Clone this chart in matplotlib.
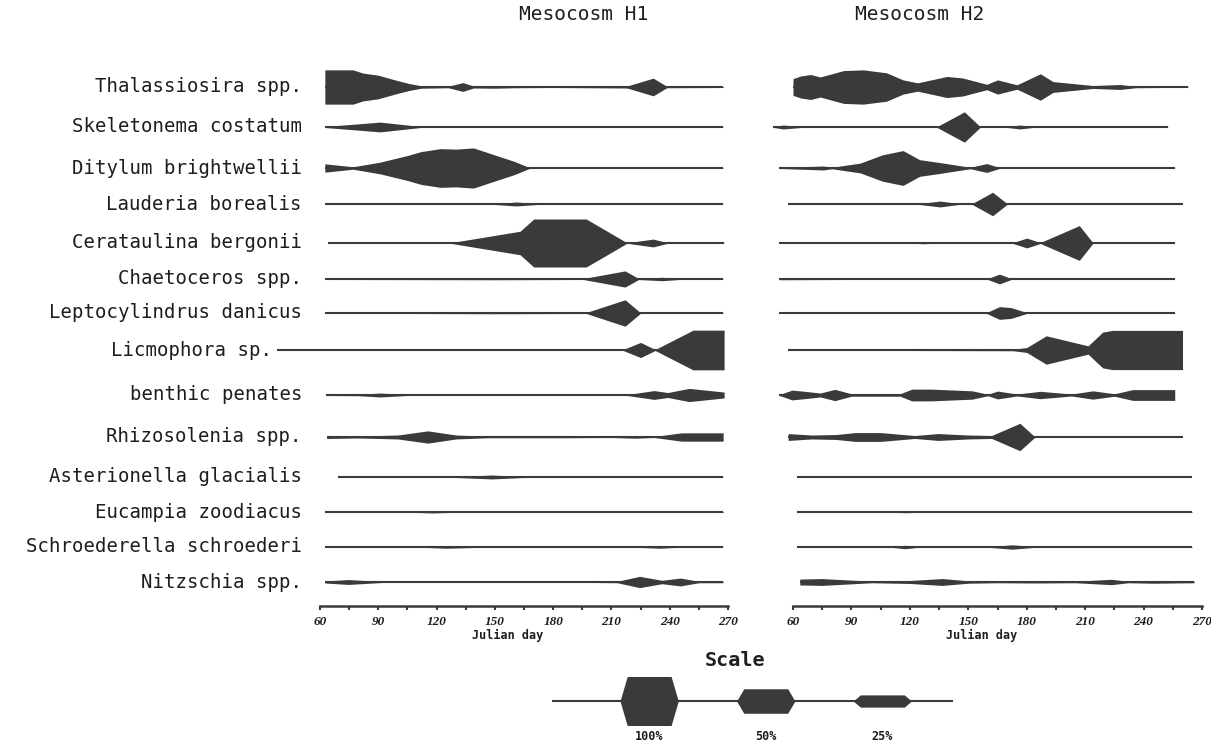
import matplotlib.pyplot as plt
import matplotlib.transforms as mtransforms
import numpy as np

W, H, DPI = 1211, 746, 100
INK = "#3a3a3a"
TXT = "#1e1e1e"
LABEL_FONT = "DejaVu Sans Mono"

SPECIES = [
    "Thalassiosira spp.", "Skeletonema costatum", "Ditylum brightwellii",
    "Lauderia borealis", "Cerataulina bergonii", "Chaetoceros spp.",
    "Leptocylindrus danicus", "Licmophora sp.", "benthic penates",
    "Rhizosolenia spp.", "Asterionella glacialis", "Eucampia zoodiacus",
    "Schroederella schroederi", "Nitzschia spp.",
]

# (julian day, relative abundance %) for each kite, mesocosm H1
H1_THALASSIOSIRA = [(62.5, 70), (77, 70), (82, 57), (90, 48), (99.5, 27), (106, 14), (112, 5),
                    (126, 3), (133.5, 18), (139, 4), (150, 5), (160, 3), (180, 2), (218, 4),
                    (231.5, 36), (238.5, 3), (267.5, 2)]
H1_SKELETONEMA = [(62.5, 2), (91, 20), (113, 1), (267.5, 1)]
H1_DITYLUM = [(62.5, 17), (77, 5), (91, 24), (105, 51), (112, 67), (122, 79), (130, 77),
              (139, 82), (150, 53), (160, 27), (168, 1), (267.5, 1)]
H1_LAUDERIA = [(62.5, 1), (150, 2), (161, 8), (172, 2), (267.5, 1)]
H1_CERATAULINA = [(64, 1), (127, 1), (163, 48), (170, 98), (197, 98), (218, 1), (231.5, 16),
                  (239, 1), (268, 1)]
H1_CHAETOCEROS = [(62.5, 2), (150, 3), (195.5, 2), (217, 33), (224, 2), (236, 7), (245, 2),
                  (267.5, 1)]
H1_LEPTOCYLINDRUS = [(62.5, 1), (150, 3), (197, 2), (217, 54), (225, 1), (267.5, 1)]
H1_LICMOPHORA = [(38, 2), (216, 2), (225, 31), (232.5, 2), (252, 81), (268, 81)]
H1_BENTHIC = [(63, 2), (80, 3), (91, 8), (105, 2), (160, 2), (218, 2), (232, 18), (239, 10),
              (250, 27), (268, 12)]
H1_RHIZOSOLENIA = [(63.5, 6), (80, 4), (100, 8), (115.5, 25), (130, 8), (146.5, 3), (187, 3),
                   (210, 2), (222, 5), (232, 2), (246, 17), (267.5, 17)]
H1_ASTERIONELLA = [(69.5, 1), (130, 2), (148.5, 8), (165, 2), (267.5, 1)]
H1_EUCAMPIA = [(62.5, 2), (110, 2), (118, 4), (126, 2), (267.5, 2)]
H1_SCHROEDERELLA = [(62.5, 1), (115, 2), (125, 5), (140, 2), (225, 2), (235, 5), (245, 1),
                    (267.5, 1)]
H1_NITZSCHIA = [(62.5, 4), (74.5, 10), (92, 2), (200, 2), (213, 3), (224.5, 23), (236, 7),
                (245.5, 16), (255, 3), (267.5, 3)]

# (julian day, relative abundance %) for each kite, mesocosm H2
H2_THALASSIOSIRA = [(60, 34), (64, 45), (69, 51), (74, 41), (86, 67), (96, 70), (108, 58),
                    (116.5, 29), (124, 17), (139, 43), (147, 37), (159.5, 11), (165, 29),
                    (175, 9), (187, 54), (193.5, 22), (214, 6), (228, 10), (236, 3), (263, 1)]
H2_SKELETONEMA = [(49.5, 1), (55, 8), (64, 2), (134, 2), (148, 62), (156, 2), (170, 2),
                  (176.5, 8), (183, 2), (252.5, 1)]
H2_DITYLUM = [(53, 2), (75.5, 8), (80, 3), (94.5, 20), (106, 54), (116.5, 71), (125, 34),
              (135.5, 22), (151, 3), (159.5, 18), (166, 2), (256, 1)]
H2_LAUDERIA = [(57.5, 1), (125, 2), (135.5, 12), (145, 2), (152, 2), (162.5, 48), (170, 1),
               (260, 1)]
H2_CERATAULINA = [(53, 1), (120, 1), (127, 3), (134, 1), (173, 2), (180, 20), (187, 2),
                  (207, 71), (214, 1), (256, 1)]
H2_CHAETOCEROS = [(53, 3), (90, 2), (160, 2), (166, 20), (172, 2), (256, 1)]
H2_LEPTOCYLINDRUS = [(53, 1), (159.5, 2), (166, 26), (172, 22), (180, 2), (256, 1)]
H2_LICMOPHORA = [(57.5, 1), (173, 3), (180, 10), (190, 58), (211.5, 17), (219, 73), (224, 80),
                 (260, 80)]
H2_BENTHIC = [(53, 2), (59.5, 20), (66, 15), (74, 8), (81.5, 23), (90, 5), (115, 5), (121, 24),
              (131, 24), (152, 17), (160, 3), (165, 16), (175, 4), (187, 15), (203, 4),
              (214, 17), (225, 5), (234.5, 22), (256, 22)]
H2_RHIZOSOLENIA = [(57.5, 14), (69.5, 8), (82, 10), (92, 18), (105, 18), (122.5, 6),
                   (134.5, 14), (150, 8), (162, 6), (176.5, 56), (184, 2), (260, 1)]
H2_ASTERIONELLA = [(62, 1), (265, 1)]
H2_EUCAMPIA = [(62, 1), (110, 1), (118, 3), (126, 1), (265, 1)]
H2_SCHROEDERELLA = [(62, 1), (110, 1), (117.5, 7), (125, 1), (160, 1), (172.5, 9), (185, 1),
                    (265, 1)]
H2_NITZSCHIA = [(63.5, 12), (75, 14), (100.5, 3), (120, 6), (136.5, 14), (150, 5), (165, 3),
                (185, 4), (205, 3), (223.5, 11), (232, 3), (245, 5), (266, 3)]

H1_SERIES = [H1_THALASSIOSIRA, H1_SKELETONEMA, H1_DITYLUM, H1_LAUDERIA, H1_CERATAULINA,
             H1_CHAETOCEROS, H1_LEPTOCYLINDRUS, H1_LICMOPHORA, H1_BENTHIC, H1_RHIZOSOLENIA,
             H1_ASTERIONELLA, H1_EUCAMPIA, H1_SCHROEDERELLA, H1_NITZSCHIA]
H2_SERIES = [H2_THALASSIOSIRA, H2_SKELETONEMA, H2_DITYLUM, H2_LAUDERIA, H2_CERATAULINA,
             H2_CHAETOCEROS, H2_LEPTOCYLINDRUS, H2_LICMOPHORA, H2_BENTHIC, H2_RHIZOSOLENIA,
             H2_ASTERIONELLA, H2_EUCAMPIA, H2_SCHROEDERELLA, H2_NITZSCHIA]

PANEL_TITLES = ["Mesocosm H1", "Mesocosm H2"]
SCALE_LEVELS = [100, 50, 25]
SCALE_LABELS = ["100%", "50%", "25%"]

# layout, in pixels from the top-left corner of the figure
ROW_Y = [87, 127, 168, 204, 243, 279, 313, 350, 395, 437, 477, 512, 547, 582]
PLOT_TOP, PLOT_BOTTOM = 60, 606
FULL_PX = 24.5         # half height of a 100 % kite
PX_PER_DAY = 1.943
LABEL_RIGHT = 302

fig = plt.figure(figsize=(W / DPI, H / DPI), dpi=DPI)
fig.patch.set_facecolor("white")


def px_axes(x0, y0, x1, y1):
    return fig.add_axes([x0 / W, 1 - y1 / H, (x1 - x0) / W, (y1 - y0) / H])


def kite(ax, y, pairs):
    d = np.array([p[0] for p in pairs], dtype=float)
    v = np.array([p[1] for p in pairs], dtype=float)
    half = v / 100.0 * FULL_PX
    ax.fill_between(d, y - half, y + half, color=INK, lw=0, clip_on=False)
    ax.plot([d[0], d[-1]], [y, y], color=INK, lw=1.5, clip_on=False,
            solid_capstyle="butt")


panels = [(320, 728, H1_SERIES, 584, 508), (793, 1202, H2_SERIES, 920, 982)]
for i, (x0, x1, series, title_x, xlab_x) in enumerate(panels):
    ax = px_axes(x0, PLOT_TOP, x1, PLOT_BOTTOM)
    ax.set_xlim(60, 270)
    ax.set_ylim(PLOT_BOTTOM, PLOT_TOP)
    for y, pairs in zip(ROW_Y, series):
        kite(ax, y, pairs)

    for side in ("left", "right", "top"):
        ax.spines[side].set_visible(False)
    ax.spines["bottom"].set_linewidth(1.8)
    ax.spines["bottom"].set_color(INK)
    ax.set_yticks([])
    ax.set_xticks(np.arange(60, 271, 30))
    ax.set_xticks(np.arange(75, 271, 30), minor=True)
    ax.tick_params(axis="x", which="both", direction="out", length=3, width=1.5,
                   color=INK, pad=4)
    for lab in ax.get_xticklabels():
        lab.set_fontfamily("Liberation Serif")
        lab.set_fontstyle("italic")
        lab.set_fontweight("bold")
        lab.set_fontsize(9.5)
        lab.set_color(TXT)

    fig.text(xlab_x / W, 1 - 635 / H, "Julian day", ha="center", va="center",
             fontsize=8.5, fontweight="bold", family=LABEL_FONT, color=TXT)
    fig.text(title_x / W, 1 - 14 / H, PANEL_TITLES[i], ha="center", va="center",
             fontsize=14, family=LABEL_FONT, color=TXT)

    if i == 0:
        # species names sit just left of where each H1 line begins
        trans = mtransforms.blended_transform_factory(fig.transFigure, ax.transData)
        for y, name, pairs in zip(ROW_Y, SPECIES, series):
            start_px = x0 + (pairs[0][0] - 60) * PX_PER_DAY
            right = min(LABEL_RIGHT, start_px - 5)
            ax.text(right / W, y, name, transform=trans, ha="right", va="center",
                    fontsize=13.7, family=LABEL_FONT, color=TXT)

# scale legend
sax = px_axes(552, 670, 953, 732)
span = (953 - 552) / PX_PER_DAY
sax.set_xlim(0, span)
sax.set_ylim(732 - 701, 670 - 701)
sax.axis("off")
sax.plot([0, span], [0, 0], color=INK, lw=1.5, solid_capstyle="butt")
centres = [50, 110, 170]
for c, level, label in zip(centres, SCALE_LEVELS, SCALE_LABELS):
    h = level / 100.0 * FULL_PX
    xs = [c - 15, c - 11.3, c + 11.3, c + 15]
    sax.fill_between(xs, [0, -h, -h, 0], [0, h, h, 0], color=INK, lw=0)
    sax.text(c, 36, label, ha="center", va="center", fontsize=8.5, fontweight="bold",
             family=LABEL_FONT, color=TXT, clip_on=False)
fig.text(735 / W, 1 - 661 / H, "Scale", ha="center", va="center", fontsize=14.5,
         fontweight="bold", family=LABEL_FONT, color=TXT)

fig.savefig("out.png", dpi=DPI, facecolor="white")
